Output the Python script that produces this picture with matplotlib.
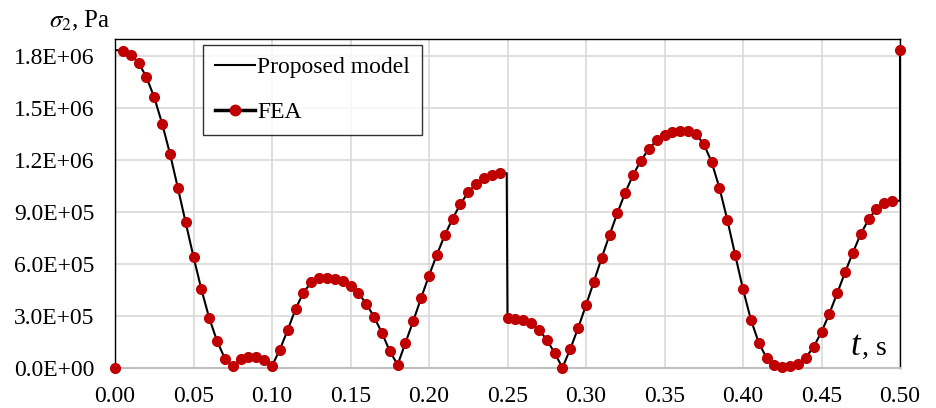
import numpy as np
import matplotlib
matplotlib.use("Agg")
import matplotlib.pyplot as plt
from matplotlib.lines import Line2D
from matplotlib.ticker import FuncFormatter, MultipleLocator

plt.rcParams['font.family'] = ['Liberation Serif', 'DejaVu Serif']
plt.rcParams['mathtext.fontset'] = 'stix'

# FEA results, one point every 0.005 s from 0 to 0.5 s
t_fea = [round(0.005 * i, 3) for i in range(101)]
s_fea = [0.000e6, 1.833e6, 1.809e6, 1.763e6, 1.680e6, 1.563e6, 1.412e6, 1.238e6, 1.042e6, 0.841e6,
         0.642e6, 0.455e6, 0.289e6, 0.156e6, 0.054e6, 0.012e6, 0.050e6, 0.064e6, 0.064e6, 0.044e6,
         0.012e6, 0.106e6, 0.220e6, 0.340e6, 0.436e6, 0.494e6, 0.517e6, 0.521e6, 0.515e6, 0.500e6,
         0.473e6, 0.432e6, 0.372e6, 0.295e6, 0.203e6, 0.098e6, 0.019e6, 0.145e6, 0.272e6, 0.405e6,
         0.534e6, 0.654e6, 0.766e6, 0.862e6, 0.947e6, 1.015e6, 1.065e6, 1.098e6, 1.115e6, 1.125e6,
         0.289e6, 0.285e6, 0.276e6, 0.257e6, 0.220e6, 0.164e6, 0.087e6, 0.002e6, 0.110e6, 0.231e6,
         0.363e6, 0.498e6, 0.637e6, 0.768e6, 0.895e6, 1.013e6, 1.115e6, 1.198e6, 1.265e6, 1.314e6,
         1.346e6, 1.362e6, 1.366e6, 1.366e6, 1.350e6, 1.294e6, 1.190e6, 1.040e6, 0.856e6, 0.654e6,
         0.455e6, 0.280e6, 0.147e6, 0.058e6, 0.015e6, 0.006e6, 0.010e6, 0.025e6, 0.060e6, 0.122e6,
         0.208e6, 0.314e6, 0.432e6, 0.552e6, 0.667e6, 0.774e6, 0.858e6, 0.920e6, 0.951e6, 0.966e6,
         1.836e6]

# proposed model: same curve, with the step changes at 0, 0.25 and 0.5 s
t_model = [0.0, 0.0] + t_fea[1:50] + [0.2495] + t_fea[50:100] + [0.5, 0.5]
s_model = [0.0, 1.836e6] + s_fea[1:50] + [1.125e6] + s_fea[50:100] + [0.966e6, 1.836e6]

fig = plt.figure(figsize=(9.36, 4.08), dpi=100)
ax = fig.add_axes([115 / 936, 1 - 368 / 408, 785 / 936, 329 / 408])

ax.plot(t_model, s_model, color='black', lw=1.5, zorder=3)
ax.plot(t_fea, s_fea, ls='none', marker='o', ms=7, color='#C00000', zorder=4, clip_on=False)

ax.set_xlim(0, 0.5)
ax.set_ylim(0, 1.9e6)
ax.xaxis.set_major_locator(MultipleLocator(0.05))
ax.yaxis.set_major_locator(MultipleLocator(3e5))
ax.xaxis.set_major_formatter(FuncFormatter(lambda v, p: f'{v:.2f}'))
ax.yaxis.set_major_formatter(FuncFormatter(lambda v, p: f'{v:.1E}'))
ax.tick_params(length=0, labelsize=17)
ax.tick_params(axis='y', pad=15)
ax.tick_params(axis='x', pad=13)
ax.grid(True, color='#D9D9D9', lw=1.2)
ax.set_axisbelow(True)
for side in ['top', 'left', 'right']:
    ax.spines[side].set_color('black')
    ax.spines[side].set_linewidth(1.0)
ax.spines['bottom'].set_color('#BFBFBF')
ax.spines['bottom'].set_linewidth(1.5)

handles = [Line2D([], [], color='black', lw=1.5),
           Line2D([], [], color='black', lw=2.5, marker='o', ms=7.5, mfc='#C00000', mec='#C00000')]
leg = ax.legend(handles, ['Proposed model', 'FEA'], loc='upper left',
                bbox_to_anchor=((203 - 115) / 785, (368 - 45) / 329), borderaxespad=0,
                fontsize=17, frameon=True, fancybox=False, handlelength=1.7,
                handletextpad=0.1, labelspacing=1.0, borderpad=0.5)
leg.get_frame().set_edgecolor('black')
leg.get_frame().set_linewidth(1.0)
leg.set_zorder(5)

fig.text(49 / 936, 1 - 27 / 408, r'$\sigma_2$, Pa', fontsize=18, va='baseline', ha='left')
fig.text(850 / 936, 1 - 355 / 408, 't', fontsize=25, style='italic', va='baseline', ha='left')
fig.text(862 / 936, 1 - 355 / 408, ', s', fontsize=20, va='baseline', ha='left')

fig.savefig('out.png', dpi=100)
